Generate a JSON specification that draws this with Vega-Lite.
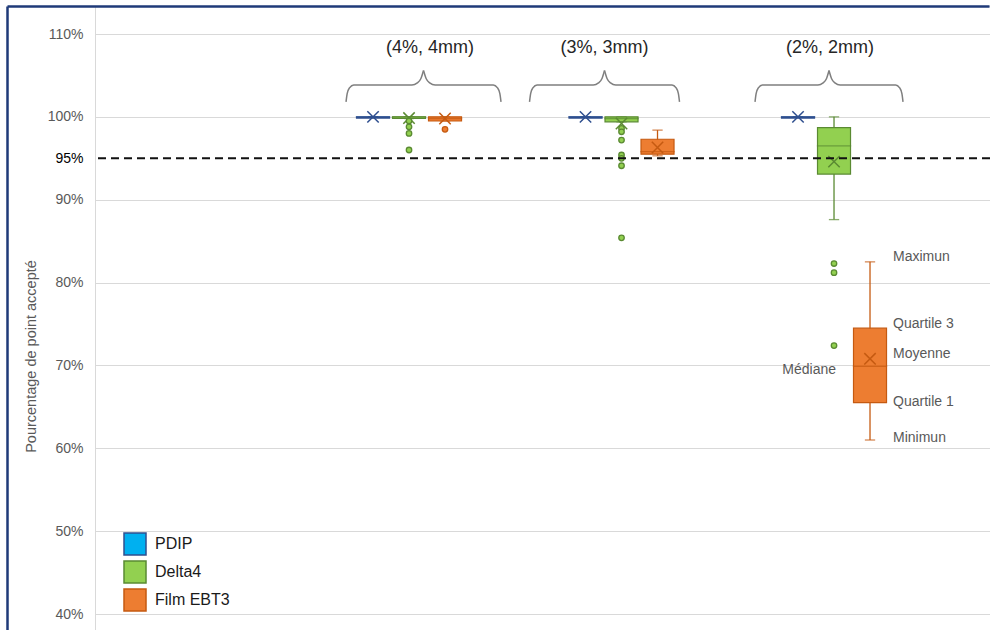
{
  "$schema": "https://vega.github.io/schema/vega-lite/v6.json",
  "width": 895,
  "height": 624,
  "autosize": "none",
  "padding": {"left": 95, "top": 6, "right": 0, "bottom": 0},
  "background": "white",
  "config": {
    "view": {"stroke": "#D9D9D9", "strokeWidth": 1},
    "font": "Liberation Sans",
    "legend": {
      "symbolType": "square",
      "symbolSize": 484,
      "symbolStrokeWidth": 1.5,
      "symbolOpacity": 1,
      "labelFontSize": 16,
      "labelColor": "#1a1a1a",
      "labelFont": "Liberation Sans",
      "rowPadding": 0,
      "padding": 0,
      "labelOffset": 8
    }
  },
  "datasets": {
    "stats": [
      {"group": "(4%, 4mm)", "series": "PDIP", "min": 100, "q1": 99.85, "median": 100, "q3": 100, "max": 100, "mean": 100},
      {"group": "(4%, 4mm)", "series": "Delta4", "min": 99.8, "q1": 99.8, "median": 100, "q3": 100, "max": 100, "mean": 99.85},
      {"group": "(4%, 4mm)", "series": "Film EBT3", "min": 99.5, "q1": 99.5, "median": 99.8, "q3": 100, "max": 100, "mean": 99.8},
      {"group": "(3%, 3mm)", "series": "PDIP", "min": 100, "q1": 99.85, "median": 100, "q3": 100, "max": 100, "mean": 100},
      {"group": "(3%, 3mm)", "series": "Delta4", "min": 99.4, "q1": 99.4, "median": 99.8, "q3": 100, "max": 100, "mean": 99.2},
      {"group": "(3%, 3mm)", "series": "Film EBT3", "min": 95.3, "q1": 95.5, "median": 95.8, "q3": 97.3, "max": 98.4, "mean": 96.3},
      {"group": "(2%, 2mm)", "series": "PDIP", "min": 100, "q1": 99.85, "median": 100, "q3": 100, "max": 100, "mean": 100},
      {"group": "(2%, 2mm)", "series": "Delta4", "min": 87.6, "q1": 93.1, "median": 96.5, "q3": 98.7, "max": 100, "mean": 94.6},
      {"group": "(2%, 2mm)", "series": "Film EBT3", "min": 61.0, "q1": 65.5, "median": 69.9, "q3": 74.5, "max": 82.5, "mean": 70.8}
    ],
    "outliers": [
      {"group": "(4%, 4mm)", "series": "Delta4", "value": 99.5},
      {"group": "(4%, 4mm)", "series": "Delta4", "value": 98.8},
      {"group": "(4%, 4mm)", "series": "Delta4", "value": 98.0},
      {"group": "(4%, 4mm)", "series": "Delta4", "value": 96.0},
      {"group": "(4%, 4mm)", "series": "Film EBT3", "value": 98.5},
      {"group": "(3%, 3mm)", "series": "Delta4", "value": 98.6},
      {"group": "(3%, 3mm)", "series": "Delta4", "value": 98.2},
      {"group": "(3%, 3mm)", "series": "Delta4", "value": 97.2},
      {"group": "(3%, 3mm)", "series": "Delta4", "value": 95.4},
      {"group": "(3%, 3mm)", "series": "Delta4", "value": 95.0},
      {"group": "(3%, 3mm)", "series": "Delta4", "value": 94.1},
      {"group": "(3%, 3mm)", "series": "Delta4", "value": 85.4},
      {"group": "(2%, 2mm)", "series": "Delta4", "value": 82.3},
      {"group": "(2%, 2mm)", "series": "Delta4", "value": 81.2},
      {"group": "(2%, 2mm)", "series": "Delta4", "value": 72.4}
    ],
    "groups": [
      {"group": "(4%, 4mm)"},
      {"group": "(3%, 3mm)"},
      {"group": "(2%, 2mm)"}
    ],
    "brace": [
      {"side": "L", "t": -1, "v": 101.8},
      {"side": "L", "t": -0.985, "v": 102.8},
      {"side": "L", "t": -0.955, "v": 103.5},
      {"side": "L", "t": -0.9, "v": 103.85},
      {"side": "L", "t": -0.15, "v": 103.85},
      {"side": "L", "t": -0.08, "v": 104.1},
      {"side": "L", "t": -0.035, "v": 104.6},
      {"side": "L", "t": 0, "v": 105.6},
      {"side": "R", "t": 0, "v": 105.6},
      {"side": "R", "t": 0.035, "v": 104.6},
      {"side": "R", "t": 0.08, "v": 104.1},
      {"side": "R", "t": 0.15, "v": 103.85},
      {"side": "R", "t": 0.9, "v": 103.85},
      {"side": "R", "t": 0.955, "v": 103.5},
      {"side": "R", "t": 0.985, "v": 102.8},
      {"side": "R", "t": 1, "v": 101.8}
    ],
    "annot": [
      {"group": "(2%, 2mm)", "series": "Film EBT3", "label": "Maximun", "v": 83.1},
      {"group": "(2%, 2mm)", "series": "Film EBT3", "label": "Quartile 3", "v": 75.0},
      {"group": "(2%, 2mm)", "series": "Film EBT3", "label": "Moyenne", "v": 71.4},
      {"group": "(2%, 2mm)", "series": "Film EBT3", "label": "Quartile 1", "v": 65.6},
      {"group": "(2%, 2mm)", "series": "Film EBT3", "label": "Minimun", "v": 61.2}
    ],
    "annotLeft": [
      {"group": "(2%, 2mm)", "series": "Film EBT3", "label": "Médiane", "v": 69.4}
    ],
    "seuil": [{"seuil": 95}]
  },
  "resolve": {"scale": {"xOffset": "independent"}},
  "layer": [
    {
      "data": {"name": "stats"},
      "mark": {"type": "rule", "strokeWidth": 1.3},
      "encoding": {
        "x": {
          "field": "group", "type": "nominal",
          "scale": {"domain": ["(4%, 4mm)", "(3%, 3mm)", "(2%, 2mm)"], "range": [0, 982], "paddingInner": 0, "paddingOuter": 0.8106, "align": 0.6031},
          "axis": {"orient": "top", "position": -88, "offset": 0, "labels": false, "ticks": false, "title": null, "domain": true, "domainColor": "#1F3A78", "domainWidth": 2.5, "grid": false}
        },
        "xOffset": {"field": "series", "type": "nominal", "scale": {"type": "band", "domain": ["PDIP", "Delta4", "Film EBT3"], "range": [53.75, 158.75], "paddingInner": 0.083, "paddingOuter": 0}},
        "y": {
          "field": "min", "type": "quantitative",
          "scale": {"domain": [38.07, 113.38], "nice": false, "zero": false},
          "axis": {
            "title": "Pourcentage de point accepté",
            "orient": "left",
            "offset": 88,
            "values": [40, 50, 60, 70, 80, 90, 95, 100, 110],
            "labelExpr": "datum.value + '%'",
            "domainColor": "#1F3A78",
            "domainWidth": 2.5,
            "ticks": false,
            "tickSize": 0,
            "labelPadding": -76,
            "labelFontSize": 14,
            "labelFont": "Liberation Sans",
            "labelColor": {"condition": {"test": "datum.value === 95", "value": "#000000"}, "value": "#595959"},
            "labelOverlap": false,
            "labelFlush": false,
            "labelBound": false,
            "grid": true,
            "gridColor": "#D9D9D9",
            "gridWidth": 1,
            "gridOpacity": {"condition": {"test": "datum.value === 95", "value": 0}, "value": 1},
            "titleFontSize": 14.5,
            "titleFont": "Liberation Sans",
            "titleColor": "#595959",
            "titleFontWeight": "normal",
            "titleX": 24,
            "titleY": 350,
            "titleBaseline": "middle",
            "titleAngle": 270
          }
        },
        "y2": {"field": "max"},
        "stroke": {"field": "series", "type": "nominal", "scale": {"domain": ["PDIP", "Delta4", "Film EBT3"], "range": ["#2F4F8F", "#5A8A32", "#C55A11"]}}
      }
    },
    {
      "data": {"name": "stats"},
      "transform": [{"fold": ["min", "max"], "as": ["k", "val"]}],
      "mark": {"type": "tick", "size": 9, "thickness": 0.01, "filled": false, "strokeWidth": 1.3},
      "encoding": {
        "x": {"field": "group", "type": "nominal"},
        "xOffset": {"field": "series", "type": "nominal", "scale": {"type": "band", "domain": ["PDIP", "Delta4", "Film EBT3"], "range": [53.75, 158.75], "paddingInner": 0.083, "paddingOuter": 0}},
        "y": {"field": "val", "type": "quantitative"},
        "stroke": {"field": "series", "type": "nominal"}
      }
    },
    {
      "data": {"name": "stats"},
      "mark": {"type": "bar", "strokeWidth": 1.2},
      "encoding": {
        "x": {"field": "group", "type": "nominal"},
        "xOffset": {"field": "series", "type": "nominal", "scale": {"type": "band", "domain": ["PDIP", "Delta4", "Film EBT3"], "range": [53.75, 158.75], "paddingInner": 0.083, "paddingOuter": 0}},
        "y": {"field": "q1", "type": "quantitative"},
        "y2": {"field": "q3"},
        "fill": {
          "field": "series", "type": "nominal",
          "scale": {"domain": ["PDIP", "Delta4", "Film EBT3"], "range": ["#00B0F0", "#92D050", "#ED7D31"]},
          "legend": {"title": null, "orient": "none", "legendX": 28, "legendY": 526}
        },
        "stroke": {"field": "series", "type": "nominal", "legend": {"title": null, "orient": "none", "legendX": 28, "legendY": 526}}
      }
    },
    {
      "data": {"name": "stats"},
      "mark": {"type": "tick", "size": 33, "thickness": 0.01, "filled": false, "strokeWidth": 1.3},
      "encoding": {
        "x": {"field": "group", "type": "nominal"},
        "xOffset": {"field": "series", "type": "nominal", "scale": {"type": "band", "domain": ["PDIP", "Delta4", "Film EBT3"], "range": [53.75, 158.75], "paddingInner": 0.083, "paddingOuter": 0}},
        "y": {"field": "median", "type": "quantitative"},
        "stroke": {"field": "series", "type": "nominal"}
      }
    },
    {
      "data": {"name": "stats"},
      "mark": {"type": "point", "shape": "M-1,-1L1,1M-1,1L1,-1", "filled": false, "size": 130, "strokeWidth": 1.5, "opacity": 1},
      "encoding": {
        "x": {"field": "group", "type": "nominal"},
        "xOffset": {"field": "series", "type": "nominal", "scale": {"type": "band", "domain": ["PDIP", "Delta4", "Film EBT3"], "range": [53.75, 158.75], "paddingInner": 0.083, "paddingOuter": 0}},
        "y": {"field": "mean", "type": "quantitative"},
        "stroke": {"field": "series", "type": "nominal"}
      }
    },
    {
      "data": {"name": "outliers"},
      "mark": {"type": "point", "shape": "circle", "filled": true, "size": 30, "strokeWidth": 1.3, "opacity": 1},
      "encoding": {
        "x": {"field": "group", "type": "nominal"},
        "xOffset": {"field": "series", "type": "nominal", "scale": {"type": "band", "domain": ["PDIP", "Delta4", "Film EBT3"], "range": [53.75, 158.75], "paddingInner": 0.083, "paddingOuter": 0}},
        "y": {"field": "value", "type": "quantitative"},
        "fill": {"field": "series", "type": "nominal"},
        "stroke": {"field": "series", "type": "nominal"}
      }
    },
    {
      "data": {"name": "seuil"},
      "mark": {"type": "rule", "strokeDash": [8, 5], "strokeWidth": 2, "color": "#111111"},
      "encoding": {
        "y": {"field": "seuil", "type": "quantitative"}
      }
    },
    {
      "data": {"name": "groups"},
      "transform": [{"filter": "datum.group === '(4%, 4mm)'"}],
      "mark": {"type": "text", "fontSize": 18, "color": "#262626", "baseline": "middle", "align": "center", "font": "Liberation Sans", "dx": 21},
      "encoding": {
        "x": {"field": "group", "type": "nominal"},
        "y": {"datum": 108.33},
        "text": {"field": "group"}
      }
    },
    {
      "data": {"name": "groups"},
      "transform": [{"filter": "datum.group === '(3%, 3mm)'"}],
      "mark": {"type": "text", "fontSize": 18, "color": "#262626", "baseline": "middle", "align": "center", "font": "Liberation Sans", "dx": -17},
      "encoding": {
        "x": {"field": "group", "type": "nominal"},
        "y": {"datum": 108.33},
        "text": {"field": "group"}
      }
    },
    {
      "data": {"name": "groups"},
      "transform": [{"filter": "datum.group === '(2%, 2mm)'"}],
      "mark": {"type": "text", "fontSize": 18, "color": "#262626", "baseline": "middle", "align": "center", "font": "Liberation Sans", "dx": -4},
      "encoding": {
        "x": {"field": "group", "type": "nominal"},
        "y": {"datum": 108.33},
        "text": {"field": "group"}
      }
    },
    {
      "data": {"name": "brace"},
      "mark": {"type": "line", "interpolate": "monotone", "strokeWidth": 1.5, "color": "#7F7F7F"},
      "encoding": {
        "x": {"datum": "(4%, 4mm)", "type": "nominal"},
        "xOffset": {"field": "t", "type": "quantitative", "scale": {"domain": [-1, 1], "range": [43.25, 198.25]}},
        "y": {"field": "v", "type": "quantitative"},
        "detail": {"field": "side"},
        "order": {"field": "t", "type": "quantitative"}
      }
    },
    {
      "data": {"name": "brace"},
      "mark": {"type": "line", "interpolate": "monotone", "strokeWidth": 1.5, "color": "#7F7F7F"},
      "encoding": {
        "x": {"datum": "(3%, 3mm)", "type": "nominal"},
        "xOffset": {"field": "t", "type": "quantitative", "scale": {"domain": [-1, 1], "range": [14.25, 164.25]}},
        "y": {"field": "v", "type": "quantitative"},
        "detail": {"field": "side"},
        "order": {"field": "t", "type": "quantitative"}
      }
    },
    {
      "data": {"name": "brace"},
      "mark": {"type": "line", "interpolate": "monotone", "strokeWidth": 1.5, "color": "#7F7F7F"},
      "encoding": {
        "x": {"datum": "(2%, 2mm)", "type": "nominal"},
        "xOffset": {"field": "t", "type": "quantitative", "scale": {"domain": [-1, 1], "range": [27.25, 175.25]}},
        "y": {"field": "v", "type": "quantitative"},
        "detail": {"field": "side"},
        "order": {"field": "t", "type": "quantitative"}
      }
    },
    {
      "data": {"name": "annot"},
      "mark": {"type": "text", "fontSize": 14, "color": "#595959", "align": "left", "baseline": "middle", "dx": 23, "font": "Liberation Sans"},
      "encoding": {
        "x": {"field": "group", "type": "nominal"},
        "xOffset": {"field": "series", "type": "nominal", "scale": {"type": "band", "domain": ["PDIP", "Delta4", "Film EBT3"], "range": [53.75, 158.75], "paddingInner": 0.083, "paddingOuter": 0}},
        "y": {"field": "v", "type": "quantitative"},
        "text": {"field": "label"}
      }
    },
    {
      "data": {"name": "annotLeft"},
      "mark": {"type": "text", "fontSize": 14, "color": "#595959", "align": "right", "baseline": "middle", "dx": -34, "font": "Liberation Sans"},
      "encoding": {
        "x": {"field": "group", "type": "nominal"},
        "xOffset": {"field": "series", "type": "nominal", "scale": {"type": "band", "domain": ["PDIP", "Delta4", "Film EBT3"], "range": [53.75, 158.75], "paddingInner": 0.083, "paddingOuter": 0}},
        "y": {"field": "v", "type": "quantitative"},
        "text": {"field": "label"}
      }
    }
  ]
}
